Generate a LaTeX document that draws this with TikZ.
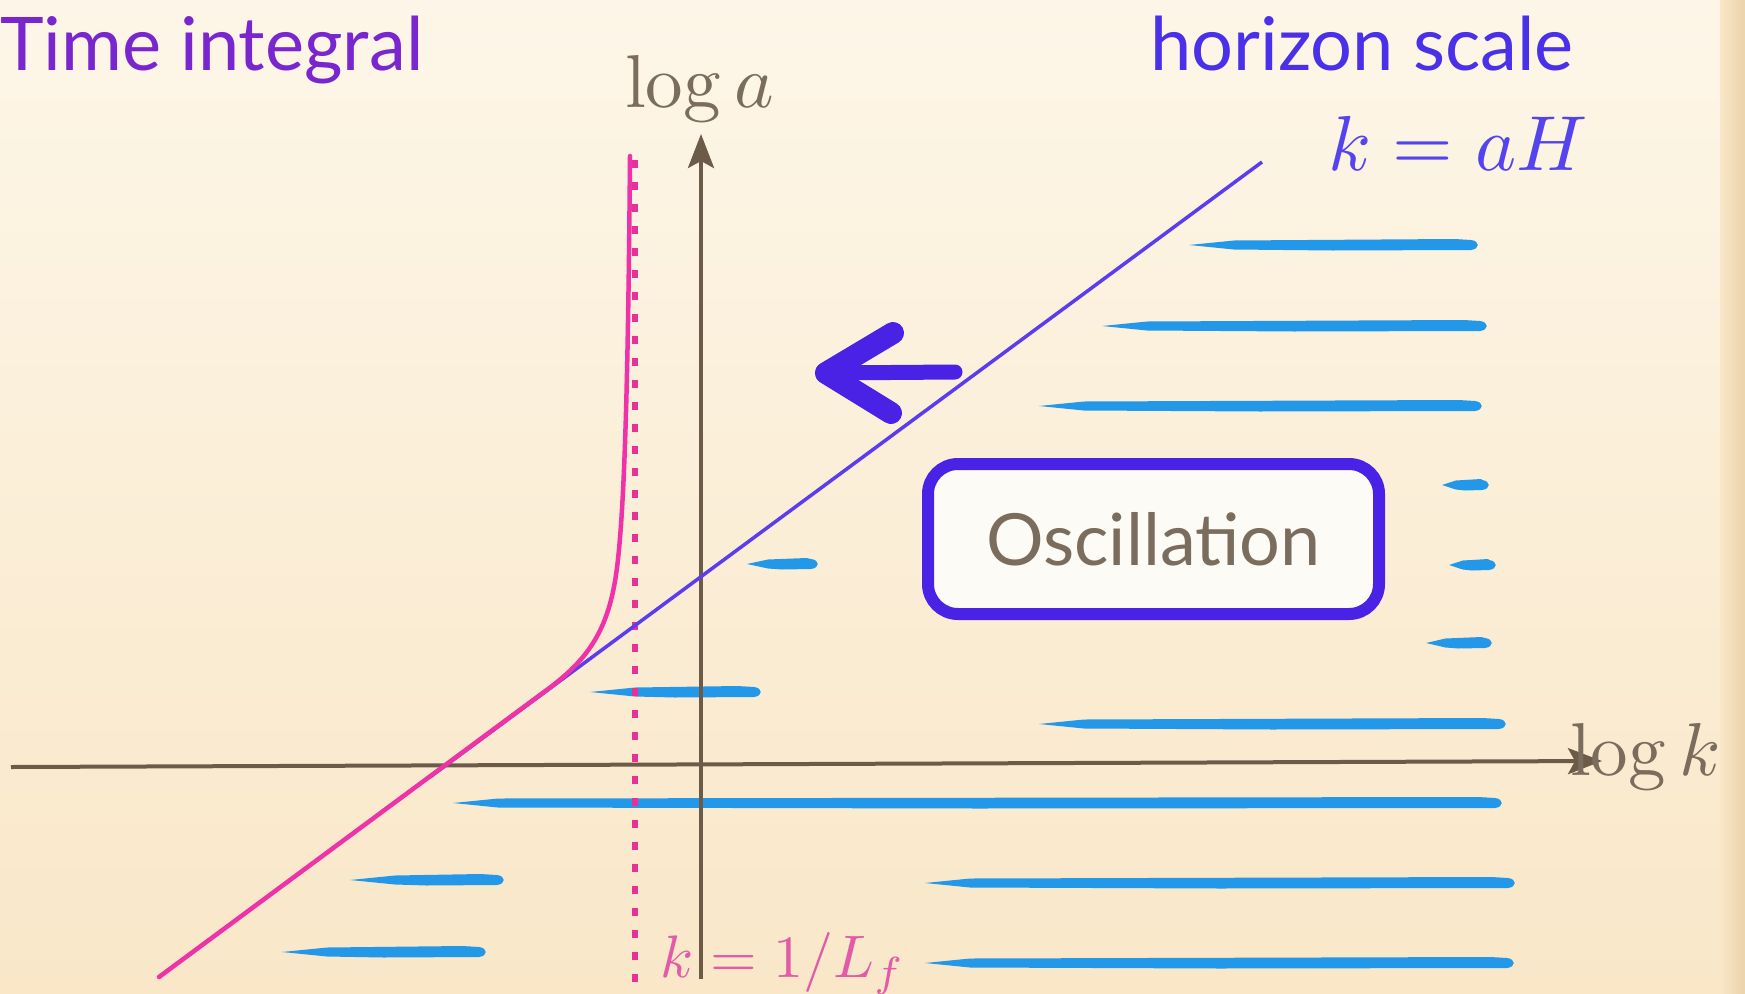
\documentclass[tikz,border=0pt]{standalone}
\usepackage[no-math]{fontspec}
\usepackage{graphicx}
\setmainfont{Lato}
\usetikzlibrary{arrows.meta}
\definecolor{bgtop}{HTML}{FDF6E8}
\definecolor{bgbot}{HTML}{F9E7C8}
\definecolor{bgedge}{HTML}{EBD3AA}
\definecolor{timecol}{HTML}{7A26CF}
\definecolor{horcol}{HTML}{4B30EA}
\definecolor{kahcol}{HTML}{5544EE}
\definecolor{axisc}{HTML}{6B5B48}
\definecolor{labc}{HTML}{7A6D5E}
\definecolor{pinkc}{HTML}{F032A8}
\definecolor{pinkdot}{HTML}{E63296}
\definecolor{pinktext}{HTML}{E25BA8}
\definecolor{bluel}{HTML}{5B3CEE}
\definecolor{boxc}{HTML}{4A22E6}
\definecolor{lblue}{HTML}{2398E8}
\definecolor{boxfill}{HTML}{FDFBF6}
\newcommand{\brushstroke}[3]{%
  \pgfmathsetmacro{\tp}{min(45,0.3*(#2-#1))}%
  \fill[lblue] (#1,#3) -- ({#1+\tp},{#3-4.5}) -- ({#2-0.5*\tp},{#3-6}) -- ({#2-6},{#3-5})
    .. controls ({#2+3},{#3-4}) and ({#2+3},{#3+4}) .. ({#2-6},{#3+5})
    -- ({0.5*(#1+#2)},{#3+5.5}) -- ({#1+\tp},{#3+4.5}) -- cycle;}
\tikzset{
  axisline/.style={draw=axisc, line width=4pt, -{Stealth[length=34pt,width=26pt,inset=7pt]}},
  mathlab/.style={text=labc, inner sep=0pt, anchor=base west},
  title/.style={inner sep=0pt, anchor=base west, font=\fontsize{74}{80}\selectfont},
  oscbox/.style={draw=boxc, line width=12pt, rounded corners=30pt, fill=boxfill,
    minimum width=451pt, minimum height=150pt, inner sep=0pt, text=labc,
    font=\fontsize{72}{80}\selectfont},
  handarrow/.style={draw=boxc, line width=22pt, line cap=round, line join=round},
}
\begin{document}
\begin{tikzpicture}[x=1pt,y=-1pt]
\useasboundingbox (0,0) rectangle (1745,993);
\shade[top color=bgtop, bottom color=bgbot] (0,0) rectangle (1745,993);
\shade[left color=bgbot, right color=bgedge] (1720,0) rectangle (1745,993);

% brush strokes
\brushstroke{1189}{1477}{245}
\brushstroke{1102}{1486}{326}
\brushstroke{1039}{1481}{406}
\brushstroke{1442}{1488}{485}
\brushstroke{747}{817}{564}
\brushstroke{1449}{1495}{565}
\brushstroke{1426}{1491}{643}
\brushstroke{590}{760}{692}
\brushstroke{1039}{1505}{724}
\brushstroke{453}{1501}{803}
\brushstroke{350}{503}{880}
\brushstroke{925}{1514}{883}
\brushstroke{282}{485}{952}
\brushstroke{925}{1513}{963}

% axes
\coordinate (xa0) at (11,767);
\coordinate (xa1) at (1602,761);
\coordinate (ya0) at (701,979);
\coordinate (ya1) at (701,134);
\draw[axisline] (xa0) -- (xa1);
\draw[axisline] (ya0) -- (ya1);
\node[mathlab] (loga) at (625,107) {\scalebox{7.5}{$\log a$}};
\node[mathlab] (logk) at (1570,775) {\scalebox{7.5}{$\log k$}};

% dotted asymptote
\coordinate (d0) at (635,160);
\coordinate (d1) at (635,993);
\draw[pinkdot, line width=6.5pt, dash pattern=on 8pt off 14pt] (d0) -- (d1);

% horizon line
\coordinate (h0) at (430,777);
\coordinate (h1) at (1262,162);
\draw[bluel, line width=3.5pt] (h0) -- (h1);

% pink curve
\coordinate (p0) at (159,977);
\coordinate (p1) at (548,689);
\coordinate (p2) at (616,575);
\coordinate (p3) at (630,156);
\draw[pinkc, line width=4.5pt, line cap=round] (p0) -- (p1)
  .. controls (590,658) and (608,628) .. (p2)
  .. controls (624,520) and (628,400) .. (p3);

% hand arrow
\coordinate (at) at (826,373);
\coordinate (aa) at (893,333);
\coordinate (ab) at (891,413);
\coordinate (as) at (955,372);
\draw[handarrow] (aa) -- (at) -- (ab);
\draw[handarrow, line width=15pt] (at) -- (as);

% oscillation box
\node[oscbox] (osc) at (1153.5,539) {Oscillation};

% texts
\node[title, text=timecol] (ti) at (0,70) {Time integral};
\node[title, text=horcol] (hs) at (1150,70) {horizon scale};
\node[inner sep=0pt, anchor=base west, text=kahcol] (kah) at (1328,170) {\scalebox{7.8}{$k=aH$}};
\node[inner sep=0pt, anchor=base west, text=pinktext] (klf) at (660,977) {\scalebox{6}{$k=1/L_f$}};
\end{tikzpicture}
\end{document}
